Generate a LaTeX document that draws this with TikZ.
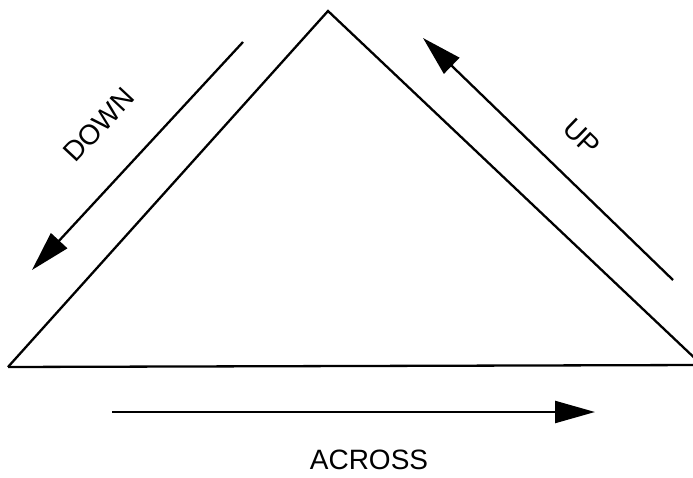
\documentclass[tikz,border=0pt]{standalone}
\usepackage{fontspec}
\setmainfont{Liberation Sans}
\usetikzlibrary{arrows.meta}
\begin{document}
\begin{tikzpicture}[x=1pt,y=-1pt,
  edge/.style={line width=2.3pt},
  dirarrow/.style={line width=2.3pt,-{Triangle[length=40pt,width=22pt]}},
  lbl/.style={font=\fontsize{28}{32}\selectfont,inner sep=0pt}]
\useasboundingbox (0,0) rectangle (693,478);
% triangle corners
\coordinate (apex) at (328,11);
\coordinate (left) at (8,367);
\coordinate (right) at (702,365);
\draw[edge,line join=miter] (left) -- (apex) -- (right);
\draw[edge] (left) -- (right);
% arrows
\coordinate (downS) at (243,42);
\coordinate (downE) at (32,270);
\coordinate (upS) at (673,280);
\coordinate (upE) at (423,38);
\coordinate (acrS) at (112,412);
\coordinate (acrE) at (595,412);
\draw[dirarrow] (downS) -- (downE);
\draw[dirarrow] (upS) -- (upE);
\draw[dirarrow] (acrS) -- (acrE);
% labels
\node[lbl,rotate=47] (down) at (99,125) {DOWN};
\node[lbl,rotate=-44] (up) at (582,137) {UP};
\node[lbl] (across) at (369,460) {ACROSS};
\end{tikzpicture}
\end{document}
